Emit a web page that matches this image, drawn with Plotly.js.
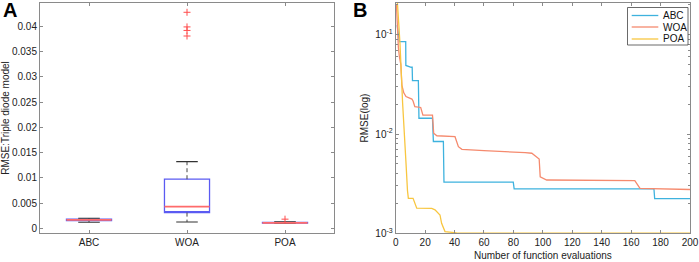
<!DOCTYPE html>
<html><head><meta charset="utf-8">
<script src="https://cdn.plot.ly/plotly-3.0.1.min.js"></script>
<style>html,body{margin:0;padding:0;background:#fff;}#chart{width:699px;height:262px;}</style>
</head><body><div id="chart"></div>
<script>
// ---------- Panel A: box plot statistics ----------
const algos = ['ABC', 'WOA', 'POA'];
const boxPos = [1, 2, 3];
const q1 = [0.00152, 0.0031, 0.00102];
const med = [0.00165, 0.0043, 0.00108];
const q3 = [0.00178, 0.00972, 0.00116];
const whiskLo = [0.0012, 0.00125, 0.00098];
const whiskHi = [0.00198, 0.0132, 0.0013];
const outX = [2, 2, 2, 2, 3];
const outY = [0.0428, 0.0399, 0.0392, 0.0381, 0.0018];

// ---------- Panel B: convergence curves ----------
const seriesNames = ['ABC', 'WOA', 'POA'];
const abcX = [1, 2.5, 6.8, 6.9, 10.5, 11.2, 11.4, 15.4, 15.8, 25, 25.6, 32.4, 32.8, 79.9, 80.5, 175.5, 176, 200];
const abcY = [0.125, 0.085, 0.085, 0.049, 0.047, 0.047, 0.0345, 0.0345, 0.0144, 0.0144, 0.0084, 0.0084, 0.00327, 0.00327, 0.0028, 0.0028, 0.00223, 0.00223];
const woaX = [0.5, 1, 1.8, 2.5, 3.5, 4.2, 5.5, 7, 11, 11.8, 13, 17, 18.5, 25, 25.8, 28, 40.3, 42.6, 45, 60, 80, 88, 92.5, 95.8, 97.5, 98.2, 102.6, 162.5, 164, 166, 200];
const woaY = [0.2, 0.12, 0.075, 0.06, 0.05, 0.031, 0.026, 0.0238, 0.0225, 0.0215, 0.0188, 0.0185, 0.0155, 0.0155, 0.0102, 0.0096, 0.0094, 0.00745, 0.0070, 0.00679, 0.00664, 0.0065, 0.0064, 0.00582, 0.0056, 0.0037, 0.00344, 0.00339, 0.0031, 0.00284, 0.00276];
const poaX = [0.5, 1.1, 2.9, 4.7, 5.6, 6.3, 7, 8, 8.6, 11.8, 14.3, 24.5, 26.7, 30.1, 31.2, 33.5, 41.4, 64, 200];
const poaY = [0.3, 0.21, 0.082, 0.0204, 0.0102, 0.0085, 0.0051, 0.0027, 0.00225, 0.00225, 0.00179, 0.00178, 0.00172, 0.00153, 0.00126, 0.00104, 0.00101, 0.001003, 0.001003];
const yTickVals = [0.001, 0.01, 0.1];
const yTickText = ['10<sup>-3</sup>', '10<sup>-2</sup>', '10<sup>-1</sup>'];

const boxW = 0.46, capW = 0.11;
const colBox = '#5b5bf2', colMed = '#ff6b6b', colOut = '#ff4d4d';
const lineCols = ['#3eb2de', '#f58a6e', '#f8c640'];

const traces = [];
traces.push({
  type: 'box', x: boxPos, q1: q1, median: q1, q3: q3, lowerfence: q1, upperfence: q3,
  width: boxW, fillcolor: 'rgba(0,0,0,0)', line: {color: colBox, width: 1.3},
  xaxis: 'x', yaxis: 'y', showlegend: false, hoverinfo: 'skip', boxpoints: false
});
const wx = [], wy = [], cx = [], cy = [], mx = [], my = [];
boxPos.forEach((p, i) => {
  wx.push(p, p, null, p, p, null);
  wy.push(q3[i], whiskHi[i], null, q1[i], whiskLo[i], null);
  cx.push(p - capW, p + capW, null, p - capW, p + capW, null);
  cy.push(whiskHi[i], whiskHi[i], null, whiskLo[i], whiskLo[i], null);
  mx.push(p - boxW / 2, p + boxW / 2, null);
  my.push(med[i], med[i], null);
});
traces.push({type: 'scatter', mode: 'lines', x: wx, y: wy, line: {color: '#444', width: 1, dash: '4px,3px'}, xaxis: 'x', yaxis: 'y', showlegend: false, hoverinfo: 'skip'});
traces.push({type: 'scatter', mode: 'lines', x: cx, y: cy, line: {color: '#333', width: 1.1}, xaxis: 'x', yaxis: 'y', showlegend: false, hoverinfo: 'skip'});
traces.push({type: 'scatter', mode: 'lines', x: mx, y: my, line: {color: colMed, width: 1.8}, xaxis: 'x', yaxis: 'y', showlegend: false, hoverinfo: 'skip'});
traces.push({type: 'scatter', mode: 'markers', x: outX, y: outY, marker: {symbol: 'cross-thin', size: 5, line: {color: colOut, width: 1}}, xaxis: 'x', yaxis: 'y', showlegend: false, hoverinfo: 'skip'});

const curvesX = [abcX, woaX, poaX], curvesY = [abcY, woaY, poaY];
seriesNames.forEach((n, i) => {
  traces.push({type: 'scatter', mode: 'lines', name: n, x: curvesX[i], y: curvesY[i], line: {color: lineCols[i], width: 1.3}, xaxis: 'x2', yaxis: 'y2', showlegend: false});
});

const axCol = '#8a8a8a';
const font = {family: 'Liberation Sans, Arial, sans-serif', size: 10, color: '#222'};
const W = 699, H = 262;
const yDom = [(H - 233.3) / H, (H - 2.7) / H];

// compact MATLAB-style legend (box + line samples + labels)
const legL = 627.5, legR = 688, legT = 7.5, legB = 45, rowY = [15.5, 27, 39];
const shapes = [{type: 'rect', xref: 'paper', yref: 'paper', x0: legL / W, x1: legR / W, y0: 1 - legB / H, y1: 1 - legT / H, line: {color: '#444', width: 0.8}, fillcolor: '#fff', layer: 'above'}];
const annotations = [
  {text: '<b>A</b>', x: 0, y: 1, xref: 'paper', yref: 'paper', xanchor: 'left', yanchor: 'top', showarrow: false, font: {size: 20, color: '#000'}, xshift: 1, yshift: 3},
  {text: '<b>B</b>', x: 351 / W, y: 1, xref: 'paper', yref: 'paper', xanchor: 'left', yanchor: 'top', showarrow: false, font: {size: 20, color: '#000'}, yshift: 3}
];
seriesNames.forEach((n, i) => {
  shapes.push({type: 'line', xref: 'paper', yref: 'paper', x0: 631.7 / W, x1: 658.3 / W, y0: 1 - rowY[i] / H, y1: 1 - rowY[i] / H, line: {color: lineCols[i], width: 1.3}, layer: 'above'});
  annotations.push({text: n, x: 660.5 / W, y: 1 - rowY[i] / H, xref: 'paper', yref: 'paper', xanchor: 'left', yanchor: 'middle', showarrow: false, font: {size: 10, color: '#111'}});
});

const layout = {
  width: W, height: H, margin: {l: 0, r: 0, t: 0, b: 0},
  paper_bgcolor: '#fff', plot_bgcolor: '#fff', font: font,
  showlegend: false,
  xaxis: {
    domain: [40 / W, 334 / W], range: [0.5, 3.5], tickvals: boxPos, ticktext: algos,
    ticks: 'inside', ticklen: 3, tickcolor: axCol, showline: true, linecolor: axCol, linewidth: 1,
    mirror: 'ticks', showgrid: false, zeroline: false, fixedrange: true, anchor: 'y', automargin: false
  },
  yaxis: {
    domain: yDom, range: [-0.001, 0.0447], dtick: 0.005, tick0: 0,
    ticks: 'inside', ticklen: 3, tickcolor: axCol, showline: true, linecolor: axCol, linewidth: 1,
    mirror: 'ticks', showgrid: false, zeroline: false, anchor: 'x', automargin: false,
    title: {text: 'RMSE:Triple diode model', font: {size: 10}, standoff: 4}
  },
  xaxis2: {
    domain: [395.7 / W, 690 / W], range: [0, 200], dtick: 20,
    ticks: 'inside', ticklen: 3, tickcolor: axCol, showline: true, linecolor: axCol, linewidth: 1,
    mirror: 'ticks', showgrid: false, zeroline: false, anchor: 'y2', automargin: false,
    title: {text: 'Number of function evaluations', font: {size: 10}, standoff: 4}
  },
  yaxis2: {
    domain: yDom, type: 'log', range: [-3, Math.log10(0.21)], tickvals: yTickVals, ticktext: yTickText,
    ticks: 'inside', ticklen: 3, tickcolor: axCol, showline: true, linecolor: axCol, linewidth: 1,
    minor: {ticks: 'inside', ticklen: 2, tickcolor: axCol, dtick: 'D1'},
    mirror: 'ticks', showgrid: false, zeroline: false, anchor: 'x2', automargin: false,
    title: {text: 'RMSE(log)', font: {size: 10}, standoff: 4}
  },
  shapes: shapes,
  annotations: annotations
};

Plotly.newPlot('chart', traces, layout, {displayModeBar: false, staticPlot: true});
</script>
</body></html>
